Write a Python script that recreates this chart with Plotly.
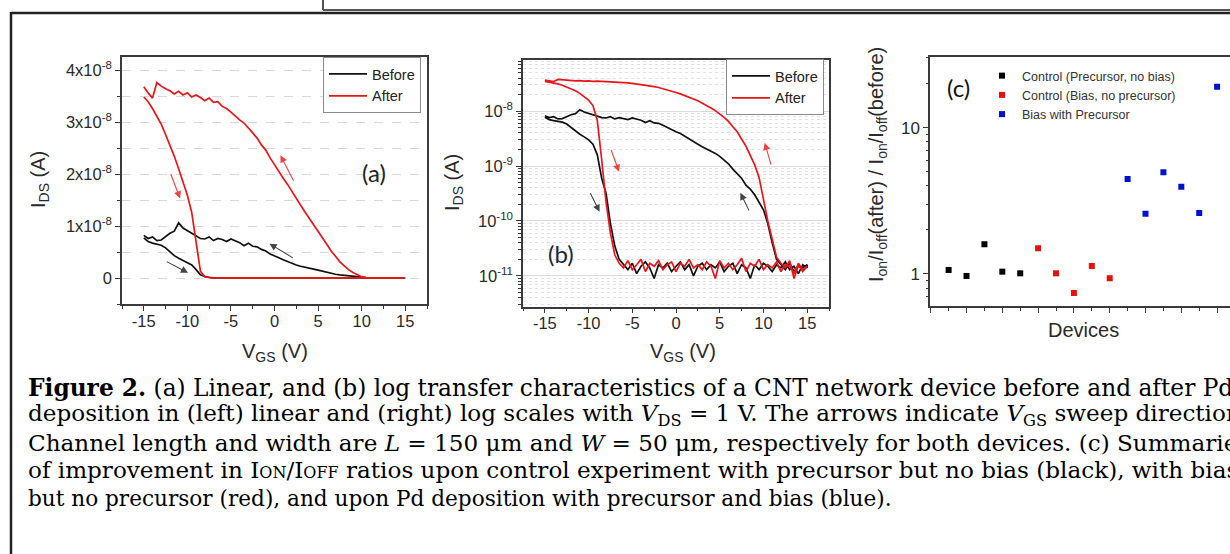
import plotly.graph_objects as go

W, H = 1230, 554

# ---------------- data: panel (a)/(b) transfer curves ----------------
vgs = [-15.0, -14.5, -14.0, -13.5, -13.0, -12.5, -12.0, -11.5, -11.0, -10.5,
       -10.0, -9.5, -9.0, -8.5, -8.0, -7.5, -7.0, -6.5, -6.0, -5.5,
       -5.0, -4.5, -4.0, -3.5, -3.0, -2.5, -2.0, -1.5, -1.0, -0.5,
       0.0, 0.5, 1.0, 1.5, 2.0, 2.5, 3.0, 3.5, 4.0, 4.5,
       5.0, 5.5, 6.0, 6.5, 7.0, 7.5, 8.0, 8.5, 9.0, 9.5,
       10.0, 10.5, 11.0, 11.5, 12.0, 12.5, 13.0, 13.5, 14.0, 14.5, 15.0]

# currents in nA; forward sweep (-15 -> 15) and backward sweep (listed at ascending VGS)
before_fwd_nA = [7.7, 7.0, 6.7, 6.5, 6.3, 5.8, 5.0, 4.3, 3.8, 3.4,
                 3.0, 2.5, 1.6, 0.6, 0.32, 0.09, 0.035, 0.02, 0.016, 0.013,
                 0.017, 0.011, 0.015, 0.018, 0.014, 0.009, 0.016, 0.014, 0.017, 0.012,
                 0.015, 0.018, 0.013, 0.016, 0.010, 0.015, 0.017, 0.013, 0.016, 0.014,
                 0.018, 0.012, 0.015, 0.017, 0.011, 0.016, 0.014, 0.009, 0.016, 0.013,
                 0.017, 0.015, 0.012, 0.016, 0.014, 0.018, 0.013, 0.015, 0.011, 0.016, 0.014]
before_bwd_nA = [8.2, 7.6, 7.9, 7.2, 7.3, 7.9, 8.6, 9.0, 10.6, 9.6,
                 9.1, 8.6, 8.1, 7.6, 7.5, 7.9, 7.2, 7.6, 7.4, 7.0,
                 7.5, 7.1, 6.8, 6.2, 6.7, 6.1, 6.0, 5.5, 5.2, 4.6,
                 4.2, 3.9, 3.5, 3.2, 2.8, 2.5, 2.25, 2.0, 1.85, 1.7,
                 1.5, 1.3, 1.1, 0.88, 0.72, 0.6, 0.45, 0.38, 0.3, 0.22,
                 0.16, 0.09, 0.04, 0.02, 0.016, 0.013, 0.017, 0.012, 0.015, 0.014, 0.016]
after_fwd_nA = [34.8, 33.9, 32.6, 31.2, 29.6, 27.6, 25.6, 23.4, 21.0, 18.6,
                15.9, 12.6, 6.8, 1.3, 0.22, 0.06, 0.024, 0.017, 0.014, 0.019,
                0.013, 0.016, 0.020, 0.012, 0.017, 0.015, 0.019, 0.013, 0.016, 0.018,
                0.012, 0.017, 0.015, 0.020, 0.014, 0.016, 0.013, 0.018, 0.015, 0.009,
                0.019, 0.014, 0.017, 0.013, 0.016, 0.021, 0.012, 0.017, 0.015, 0.020,
                0.013, 0.016, 0.014, 0.018, 0.012, 0.016, 0.015, 0.011, 0.017, 0.013, 0.015]
after_bwd_nA = [36.8, 35.6, 34.6, 37.6, 36.9, 36.4, 36.0, 35.4, 35.9, 35.2,
                35.6, 34.8, 35.2, 34.7, 34.1, 34.6, 33.8, 33.9, 33.0, 32.6,
                31.9, 31.2, 30.4, 29.8, 28.8, 27.9, 26.9, 25.6, 24.6, 23.1,
                21.8, 20.6, 19.2, 18.0, 16.6, 15.4, 14.0, 12.7, 11.4, 10.2,
                9.0, 7.7, 6.5, 5.2, 4.2, 3.1, 2.3, 1.6, 1.05, 0.62,
                0.25, 0.1, 0.045, 0.022, 0.017, 0.014, 0.019, 0.009, 0.016, 0.012, 0.015]

# ---------------- data: panel (c) ----------------
dev_ctrl_prec = [1, 2, 3, 4, 5]
ratio_ctrl_prec = [1.065, 0.969, 1.596, 1.037, 1.01]
dev_ctrl_bias = [6, 7, 8, 9, 10]
ratio_ctrl_bias = [1.499, 1.01, 0.741, 1.134, 0.935]
dev_bias_prec = [11, 12, 13, 14, 15, 16]
ratio_bias_prec = [4.46, 2.58, 4.96, 3.95, 2.61, 19.06]


def sub(t, size):
    return "<span style='font-size:%.1fpx;baseline-shift:-%.1fpx'>%s</span>" % (0.7 * size, 0.21 * size, t)


def sup(t, size):
    return "<span style='font-size:%.1fpx;baseline-shift:%.1fpx'>%s</span>" % (0.7 * size, 0.42 * size, t)


TICK = 16.5
TITLE = 20
CAP = 23.1
CAP_FIRST = 23.3
CAP_LAST = 21.6

# ---------------- tick labels ----------------
vgs_tick_vals = [-15, -10, -5, 0, 5, 10, 15]
vgs_tick_text = ["-15", "-10", "-5", "0", "5", "10", "15"]
lin_tick_vals = [0, 1e-8, 2e-8, 3e-8, 4e-8]
lin_tick_text = ["0"] + [m + "x10" + sup("-8", TICK) for m in ("1", "2", "3", "4")]
log_tick_vals = [1e-11, 1e-10, 1e-9, 1e-8]
log_tick_text = ["10" + sup(e, TICK) for e in ("-11", "-10", "-9", "-8")]
ratio_tick_vals = [1, 10]
ratio_tick_text = ["1", "10"]

# arrows: (tail x, tail y, head x, head y, colour)
arrows_a = [(-11.97, 2.03e-8, -10.83, 1.53e-8, "#e84545"),
            (2.28, 1.84e-8, 0.68, 2.36e-8, "#e84545"),
            (-12.54, 0.33e-8, -9.92, 0.10e-8, "#444444"),
            (2.28, 0.37e-8, -0.57, 0.66e-8, "#444444")]
arrows_b = [(-7.47, -8.68, -6.52, -9.105, "#e84545"),
            (10.92, -9.0, 10.15, -8.577, "#e84545"),
            (-9.88, -9.47, -8.74, -9.834, "#444444"),
            (8.43, -9.834, 7.36, -9.488, "#444444")]

SC = "<span style='font-size:16px'>"
caption_lines = [
    "<b>Figure 2.</b> (a) Linear, and (b) log transfer characteristics of a CNT network device before and after Pd",
    "deposition in (left) linear and (right) log scales with <i>V</i>" + sub("DS", CAP) +
    " = 1 V. The arrows indicate <i>V</i>" + sub("GS", CAP) + " sweep directions.",
    "Channel length and width are <i>L</i> = 150 μm and <i>W</i> = 50 μm, respectively for both devices. (c) Summaries",
    "of improvement in I" + SC + "ON</span>/I" + SC + "OFF</span> ratios upon control experiment with precursor but no bias (black), with bias",
    "but no precursor (red), and upon Pd deposition with precursor and bias (blue).",
]
caption_sizes = [CAP_FIRST, CAP, CAP, CAP, CAP_LAST]

BLACK = "#111111"
RED = "#e8161b"


def px_x(p):
    return p / W


def px_y(p):
    return 1 - p / H


def loop(fwd, bwd):
    xs = vgs + vgs[::-1]
    ys = [v * 1e-9 for v in fwd] + [v * 1e-9 for v in bwd[::-1]]
    return xs, ys


fig = go.Figure()

bx, by = loop(before_fwd_nA, before_bwd_nA)
ax_, ay_ = loop(after_fwd_nA, after_bwd_nA)

for xa, ya, leg in (("x", "y", "legend"), ("x2", "y2", "legend2")):
    fig.add_trace(go.Scatter(x=bx, y=by, mode="lines", name="Before",
                             line=dict(color=BLACK, width=1.7),
                             xaxis=xa, yaxis=ya, legend=leg))
    fig.add_trace(go.Scatter(x=ax_, y=ay_, mode="lines", name="After",
                             line=dict(color=RED, width=1.7),
                             xaxis=xa, yaxis=ya, legend=leg))

for xs, ys, nm, col in ((dev_ctrl_prec, ratio_ctrl_prec, "Control (Precursor, no bias)", "#000000"),
                        (dev_ctrl_bias, ratio_ctrl_bias, "Control (Bias, no precursor)", "#e3120b"),
                        (dev_bias_prec, ratio_bias_prec, "Bias with Precursor", "#0010d0")):
    fig.add_trace(go.Scatter(x=xs, y=ys, mode="markers", name=nm,
                             marker=dict(symbol="square", size=6, color=col),
                             xaxis="x3", yaxis="y3", legend="legend3"))

AXC = "#3a3a3a"
tickfont = dict(family="Liberation Sans", size=TICK, color="#2a2a2a")
common = dict(showline=True, linecolor=AXC, linewidth=1.5, ticks="outside",
              ticklen=5, tickwidth=1.2, tickcolor=AXC, tickfont=tickfont,
              showgrid=False, zeroline=False)

fig.update_layout(
    width=W, height=H, margin=dict(l=0, r=0, t=0, b=0),
    paper_bgcolor="white", plot_bgcolor="white",
    xaxis=dict(domain=[px_x(122), px_x(427)], range=[-17.5, 17.5], anchor="y",
               tickmode="array", tickvals=vgs_tick_vals, ticktext=vgs_tick_text,
               ticklabelstandoff=-4,
               minor=dict(tickmode="linear", tick0=0, dtick=2.5, ticks="outside", ticklen=3, tickcolor=AXC),
               mirror=True, **common),
    yaxis=dict(domain=[px_y(304), px_y(57)], range=[-0.5e-8, 4.25e-8], anchor="x",
               tickmode="array", tickvals=lin_tick_vals, ticktext=lin_tick_text,
               minor=dict(tickmode="linear", tick0=0, dtick=0.5e-8, ticks="outside", ticklen=3,
                          tickcolor=AXC, showgrid=True, gridcolor="#d8d8d8", griddash="dash", gridwidth=1),
               mirror=True, **common),
    xaxis2=dict(domain=[px_x(523), px_x(829)], range=[-17.5, 17.5], anchor="y2",
                tickmode="array", tickvals=vgs_tick_vals, ticktext=vgs_tick_text,
                ticklabelstandoff=-4,
                minor=dict(tickmode="linear", tick0=0, dtick=2.5, ticks="outside", ticklen=3, tickcolor=AXC),
                mirror=True, **common),
    yaxis2=dict(domain=[px_y(306.7), px_y(60)], type="log", range=[-11.56, -7.07], anchor="x2",
                tickmode="array", tickvals=log_tick_vals, ticktext=log_tick_text,
                minor=dict(dtick="D1", ticks="outside", ticklen=3, tickcolor=AXC,
                           showgrid=True, gridcolor="#e2e2e2", griddash="dot", gridwidth=1),
                mirror=True, **{**common, "showgrid": True, "gridcolor": "#dcdcdc"}),
    xaxis3=dict(domain=[px_x(930), 1.0], range=[-0.04, 16.72], anchor="y3",
                tickmode="linear", tick0=0, dtick=2, showticklabels=False,
                minor=dict(tickmode="linear", tick0=1, dtick=2, ticks="outside", ticklen=3, tickcolor=AXC),
                mirror=True, **common),
    yaxis3=dict(domain=[px_y(306), px_y(57.3)], type="log", range=[-0.219, 1.481], anchor="x3",
                tickmode="array", tickvals=ratio_tick_vals, ticktext=ratio_tick_text,
                minor=dict(dtick="D1", ticks="outside", ticklen=2, tickcolor=AXC),
                mirror=False, **{**common, "tickfont": dict(family="Liberation Sans", size=17, color="#2a2a2a")}),
    legend=dict(x=px_x(323), y=px_y(57), xanchor="left", yanchor="top",
                bgcolor="white", bordercolor="#8a8a8a", borderwidth=1,
                font=dict(family="Liberation Sans", size=14.5, color="#222"), itemwidth=38),
    legend2=dict(x=px_x(726), y=px_y(59), xanchor="left", yanchor="top",
                 bgcolor="white", bordercolor="#8a8a8a", borderwidth=1,
                 font=dict(family="Liberation Sans", size=14.5, color="#222"), itemwidth=38),
    legend3=dict(x=px_x(982), y=px_y(61), xanchor="left", yanchor="top",
                 bgcolor="rgba(0,0,0,0)", borderwidth=0,
                 font=dict(family="Liberation Sans", size=12.5, color="#333"), itemwidth=30),
)

ann = []
title_font = dict(family="Liberation Sans", size=TITLE, color="#2a2a2a")
ion_ioff = "I" + sub("on", TITLE) + "/I" + sub("off", TITLE)
for txt, x, y, ang in (("I" + sub("DS", TITLE) + " (A)", 40, 180, -90),
                       ("V" + sub("GS", TITLE) + " (V)", 275, 352, 0),
                       ("I" + sub("DS", TITLE) + " (A)", 453, 183, -90),
                       ("V" + sub("GS", TITLE) + " (V)", 683, 352, 0),
                       (ion_ioff + "(after) / " + ion_ioff + "(before)", 877, 165, -90),
                       ("Devices", 1083, 330, 0)):
    ann.append(dict(text=txt, x=px_x(x), y=px_y(y), xref="paper", yref="paper",
                    showarrow=False, textangle=ang, font=title_font,
                    xanchor="center", yanchor="middle"))

lab_font = "Lato"
ann.append(dict(text="(a)", x=11.4, y=2.03e-8, xref="x", yref="y", showarrow=False,
                font=dict(family=lab_font, size=24, color="#222")))
ann.append(dict(text="(b)", x=-13.2, y=-10.59, xref="x2", yref="y2", showarrow=False,
                font=dict(family=lab_font, size=24, color="#1c2440")))
ann.append(dict(text="(c)", x=1.54, y=1.276, xref="x3", yref="y3", showarrow=False,
                font=dict(family=lab_font, size=24, color="#111")))

for arrows, xr, yr in ((arrows_a, "x", "y"), (arrows_b, "x2", "y2")):
    for tx, ty, hx, hy, col in arrows:
        ann.append(dict(text="", x=hx, y=hy, ax=tx, ay=ty, xref=xr, yref=yr,
                        axref=xr, ayref=yr, showarrow=True, arrowhead=2,
                        arrowsize=1.3, arrowwidth=1.1, arrowcolor=col))

baselines = [395, 422.5, 450, 477.5, 505]
for line, bl, fs in zip(caption_lines, baselines, caption_sizes):
    ann.append(dict(text=line, x=px_x(26), y=px_y(bl - 0.32 * fs), xref="paper", yref="paper",
                    showarrow=False, xanchor="left", yanchor="middle",
                    font=dict(family="DejaVu Serif", size=fs, color="#000")))

fig.update_layout(annotations=ann)

shapes = [
    dict(type="line", x0=px_x(11), x1=1.0, y0=px_y(13), y1=px_y(13), line=dict(color="#222", width=2.5)),
    dict(type="line", x0=px_x(11), x1=px_x(11), y0=px_y(12), y1=0, line=dict(color="#222", width=2.5)),
    dict(type="line", x0=px_x(323), x1=px_x(323), y0=1.0, y1=px_y(10), line=dict(color="#555", width=2)),
    dict(type="line", x0=px_x(323), x1=1.0, y0=px_y(10), y1=px_y(10), line=dict(color="#555", width=2)),
]
for s in shapes:
    s.update(xref="paper", yref="paper")
fig.update_layout(shapes=shapes)

fig.write_html("out.html", config={"displayModeBar": False},
               post_script="document.body.style.margin='0px';document.body.style.overflow='hidden';")
